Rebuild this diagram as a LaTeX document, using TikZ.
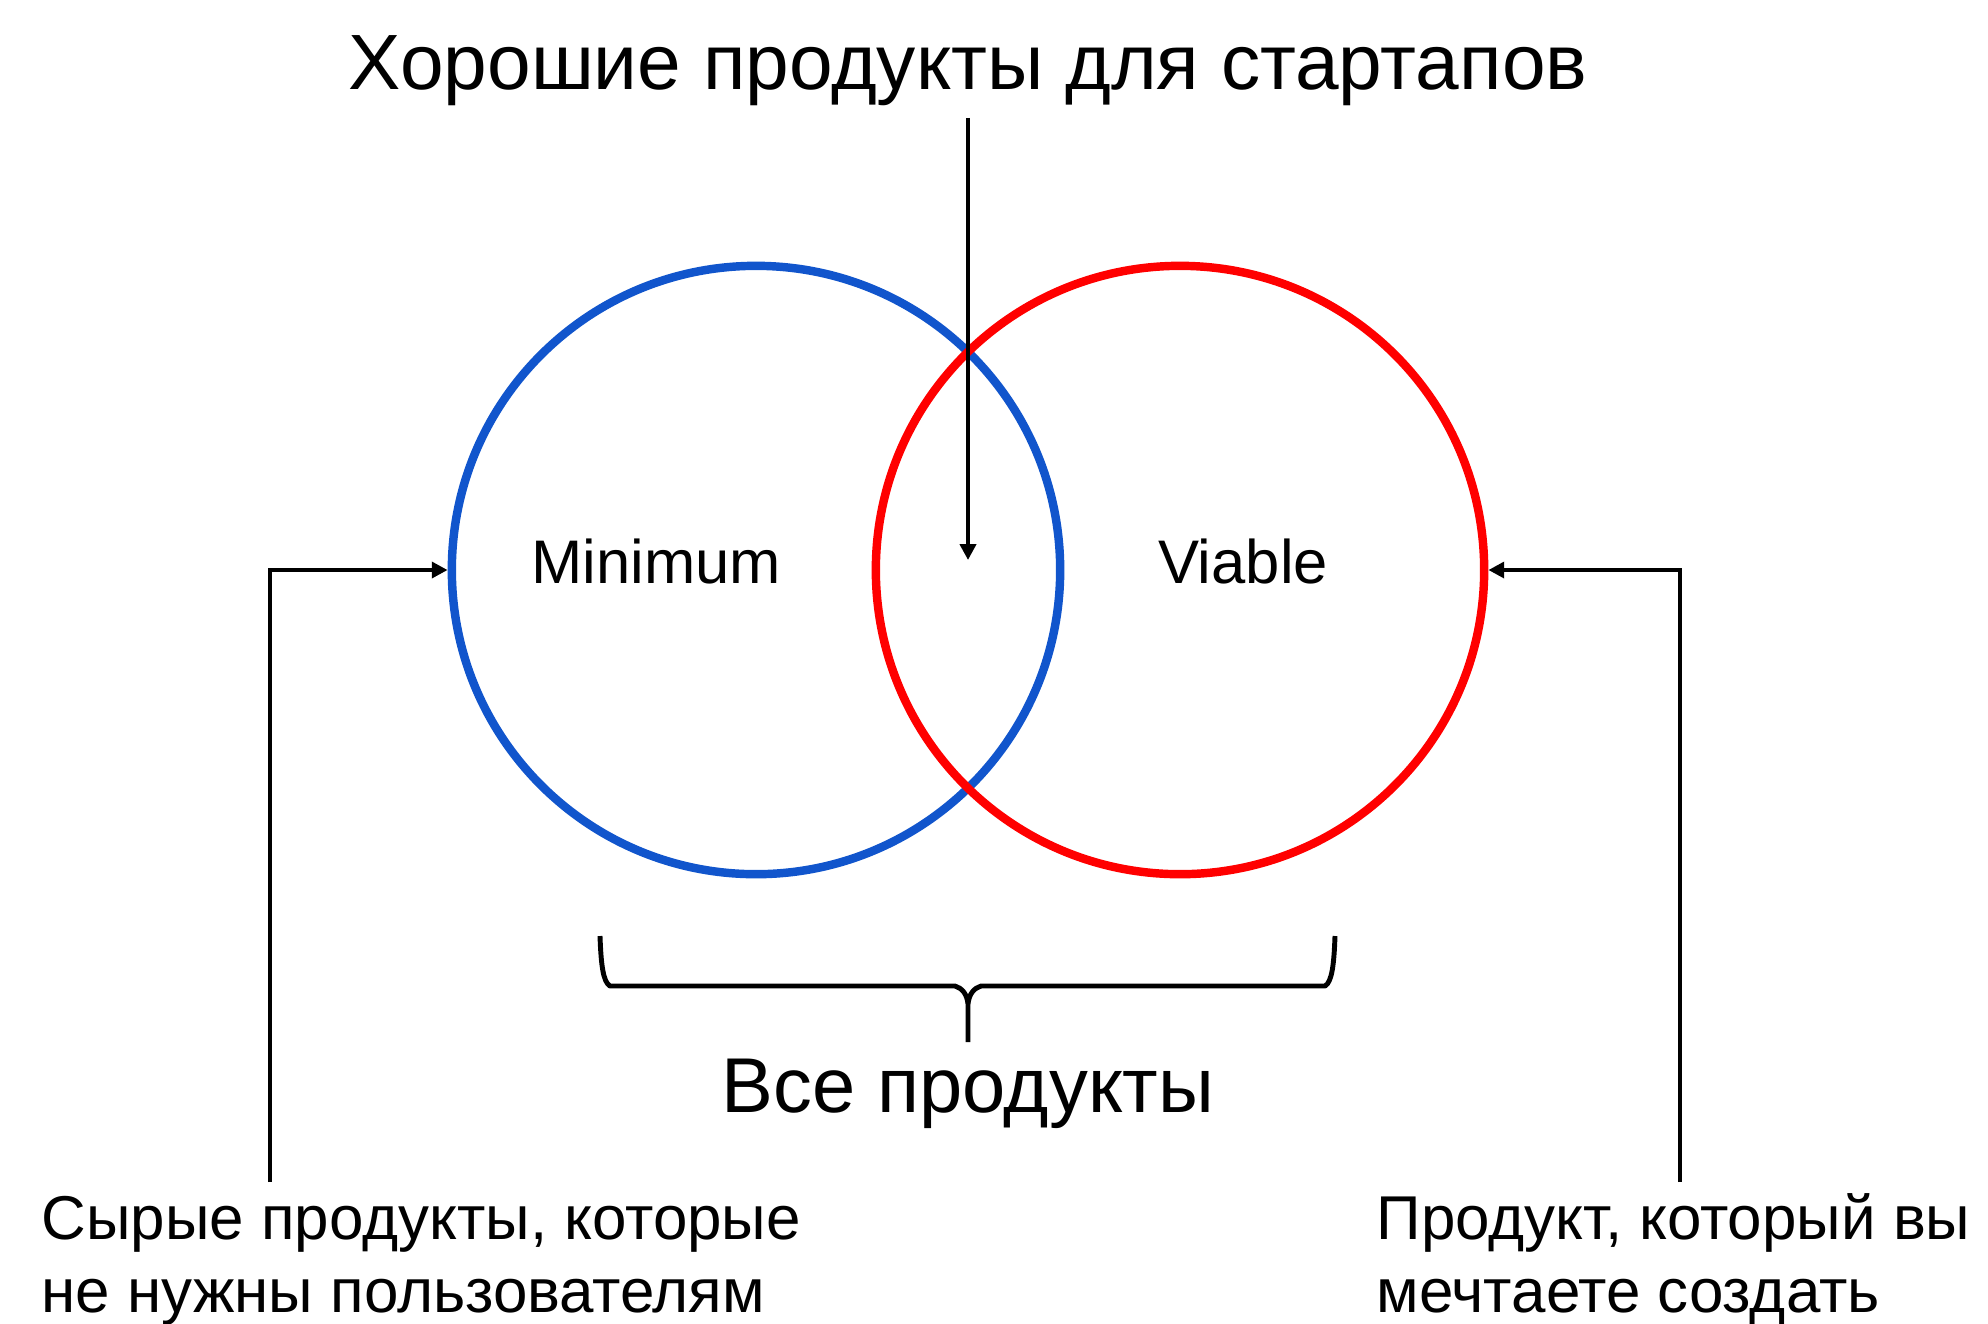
\documentclass[tikz,border=0pt]{standalone}
\usepackage{fontspec}
\setmainfont{Liberation Sans}
\usetikzlibrary{positioning, calc}
\usetikzlibrary{arrows.meta}
\definecolor{setblue}{HTML}{1155CC}
\definecolor{setred}{HTML}{FF0000}

\begin{document}
\begin{tikzpicture}[x=0.01cm,y=-0.01cm,draw=black!100]
	\def \rowtitle{89}
	\def \rowcircle{570}
	\def \rowlabel{583}
	\def \rowall{1112}
	\def \rowfoot{1182}
	\def \rowtext{1312}
	\tikzstyle{set-node}=[circle,line width=2.4pt,inner sep=0pt,minimum size=6.08cm]
	\tikzstyle{set-lbl}=[anchor=base,inner sep=0pt,font=\fontsize{17.5}{21}\selectfont]
	\tikzstyle{big-lbl}=[anchor=base,inner sep=0.12cm,font=\fontsize{22}{26}\selectfont]
	\tikzstyle{foot-lbl}=[anchor=base west,align=left,inner sep=0pt,font=\fontsize{17.6}{20.5}\selectfont]
	\tikzstyle{pointer}=[-{Triangle[length=4.5pt,width=4.5pt]},line width=1.4pt]
	\useasboundingbox (0,0) rectangle (1988,1323);

	% the two sets
	\node[set-node,draw=setblue] (minc) at (756,\rowcircle) {};
	\node[set-node,draw=setred] (viac) at (1180,\rowcircle) {};
	\node[set-lbl] (minlbl) at (656,\rowlabel) {Minimum};
	\node[set-lbl] (vialbl) at (1243,\rowlabel) {Viable};

	% titles
	\node[big-lbl,font=\fontsize{22.3}{26}\selectfont] (title) at (968,\rowtitle) {Хорошие продукты для стартапов};
	\node[big-lbl,inner sep=0pt,font=\fontsize{22.1}{27}\selectfont] (all) at (968,\rowall) {Все продукты};

	% notes at the bottom
	\node[foot-lbl] (raw) at (41,\rowtext) {Сырые продукты, которые\\не нужны пользователям};
	\node[foot-lbl] (dream) at (1376,\rowtext) {Продукт, который вы\\мечтаете создать};

	\coordinate (goodpt) at (968,560);
	\coordinate (rawfoot) at (270,\rowfoot);
	\coordinate (dreamfoot) at (1680,\rowfoot);

	\draw[pointer] (title) -- (goodpt);
	\draw[pointer] (rawfoot) |- (minc);
	\draw[pointer] (dreamfoot) |- (viac);

	% brace over all products
	\draw[line width=1.4pt,line join=round]
		(600,936) .. controls (601,964) and (603,982) .. (610,986) -- (955,986)
		.. controls (962,988) and (967,994) .. (968,1004) -- (968,1042)
		(968,1004) .. controls (969,994) and (974,988) .. (981,986) -- (1325,986)
		.. controls (1332,982) and (1334,964) .. (1335,936);
\end{tikzpicture}
\end{document}
